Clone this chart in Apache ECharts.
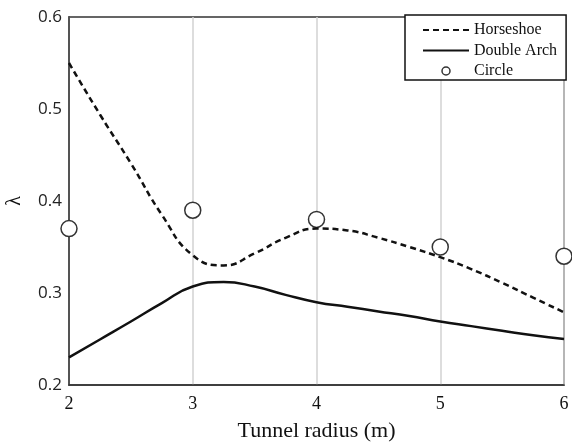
<!DOCTYPE html>
<html><head><meta charset="utf-8">
<script src="https://cdn.jsdelivr.net/npm/echarts@6/dist/echarts.min.js"></script>
<style>html,body{margin:0;padding:0;background:#fff}#c{width:572px;height:442px}</style>
</head><body><div id="c"></div>
<script>
const xTicks = [2, 3, 4, 5, 6];
const yTicks = [0.2, 0.3, 0.4, 0.5, 0.6];
const curveX = [2, 2.25, 2.5, 2.75, 3, 3.25, 3.5, 3.75, 4, 4.25, 4.5, 4.75, 5, 5.25, 5.5, 5.75, 6];
const horseshoeY = [0.55, 0.494, 0.441, 0.385, 0.341, 0.330, 0.343, 0.360, 0.370, 0.368, 0.360, 0.350, 0.339, 0.326, 0.311, 0.295, 0.279];
const doubleArchY = [0.23, 0.2495, 0.269, 0.289, 0.307, 0.312, 0.307, 0.298, 0.290, 0.285, 0.280, 0.275, 0.269, 0.264, 0.259, 0.254, 0.25];
const circleX = [2, 3, 4, 5, 6];
const circleY = [0.37, 0.39, 0.38, 0.35, 0.34];

const zip = (a, b) => a.map((v, i) => [v, b[i]]);
const chart = echarts.init(document.getElementById('c'), null, {renderer: 'canvas'});
chart.setOption({
  animation: false,
  backgroundColor: '#fff',
  grid: {left: 69, right: 8, top: 17, bottom: 57, outerBoundsMode: 'none', containLabel: false,
         show: true, borderColor: '#333', borderWidth: 1.5, backgroundColor: 'transparent'},
  xAxis: {
    type: 'value', min: xTicks[0], max: xTicks[xTicks.length - 1], interval: 1,
    axisLine: {show: true, lineStyle: {color: '#333', width: 1.5}},
    axisTick: {show: false},
    splitLine: {show: true, lineStyle: {color: '#d2d2d2', width: 1.5}},
    axisLabel: {fontFamily: 'Liberation Serif', fontSize: 18, color: '#111', margin: 10},
    name: 'Tunnel radius (m)', nameLocation: 'middle', nameGap: 35,
    nameTextStyle: {fontFamily: 'Liberation Serif', fontSize: 22, color: '#111'}
  },
  yAxis: {
    type: 'value', min: yTicks[0], max: yTicks[yTicks.length - 1], interval: 0.1,
    axisLine: {show: true, lineStyle: {color: '#333', width: 1.5}},
    axisTick: {show: false},
    splitLine: {show: false},
    axisLabel: {fontFamily: 'Open Sans', fontSize: 17, color: '#222', margin: 7, formatter: v => v.toFixed(1)},
    name: 'λ', nameLocation: 'middle', nameGap: 44,
    nameTextStyle: {fontFamily: 'Liberation Serif', fontSize: 20, color: '#111'}
  },
  legend: {
    orient: 'vertical', left: 405, top: 15,
    itemWidth: 46, itemHeight: 8, itemGap: 4.5,
    padding: [7, 9, 1, 17],
    borderColor: '#111', borderWidth: 1.5, backgroundColor: '#fff',
    textStyle: {fontFamily: 'Liberation Serif', fontSize: 16, color: '#111', lineHeight: 16},
    data: [
      {name: 'Horseshoe', itemStyle: {opacity: 0, color: 'rgba(0,0,0,0)', borderWidth: 0}},
      {name: 'Double Arch', itemStyle: {opacity: 0, color: 'rgba(0,0,0,0)', borderWidth: 0}},
      {name: 'Circle', icon: 'circle', itemStyle: {color: '#fff', borderColor: '#333', borderWidth: 1.5}}
    ]
  },
  series: [
    {name: 'Circle', type: 'scatter', data: zip(circleX, circleY), symbol: 'circle', symbolSize: 16, z: 2,
     itemStyle: {color: '#fff', borderColor: '#333', borderWidth: 1.5, opacity: 1}},
    {name: 'Horseshoe', type: 'line', data: zip(curveX, horseshoeY), smooth: 0.5, symbol: 'none', z: 3,
     lineStyle: {color: '#111', width: 2.5, type: [6, 4]}, itemStyle: {color: '#111'}},
    {name: 'Double Arch', type: 'line', data: zip(curveX, doubleArchY), smooth: 0.5, symbol: 'none', z: 3,
     lineStyle: {color: '#111', width: 2.5, type: 'solid'}, itemStyle: {color: '#111'}}
  ]
});
</script></body></html>
